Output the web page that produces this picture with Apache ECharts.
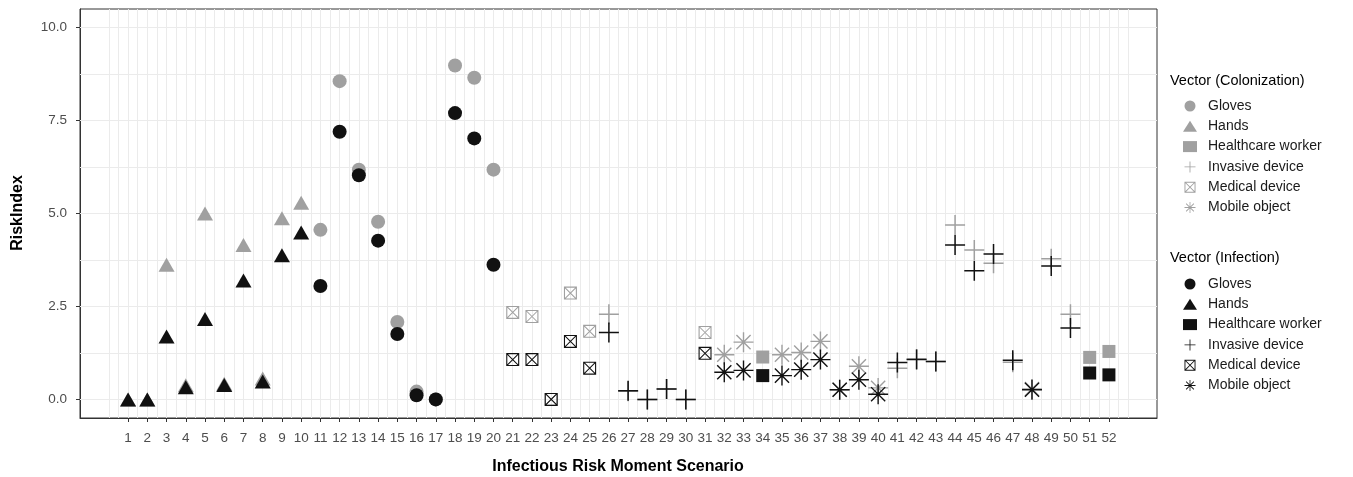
<!DOCTYPE html>
<html>
<head>
<meta charset="utf-8">
<script src="https://cdn.jsdelivr.net/npm/echarts@6/dist/echarts.min.js"></script>
<style>
  html, body { margin: 0; padding: 0; background: #ffffff; }
  #chart { width: 1353px; height: 477px; }
</style>
</head>
<body>
<div id="chart"></div>
<script>
// ---------- DATA ----------
const scenarios = [1,2,3,4,5,6,7,8,9,10,11,12,13,14,15,16,17,18,19,20,21,22,23,24,25,26,
  27,28,29,30,31,32,33,34,35,36,37,38,39,40,41,42,43,44,45,46,47,48,49,50,51,52];
const vectors = [
  'Hands','Hands','Hands','Hands','Hands','Hands','Hands','Hands','Hands','Hands',
  'Gloves','Gloves','Gloves','Gloves','Gloves','Gloves','Gloves','Gloves','Gloves','Gloves',
  'Medical device','Medical device','Medical device','Medical device','Medical device',
  'Invasive device','Invasive device','Invasive device','Invasive device','Invasive device',
  'Medical device','Mobile object','Mobile object','Healthcare worker',
  'Mobile object','Mobile object','Mobile object','Mobile object','Mobile object','Mobile object',
  'Invasive device','Invasive device','Invasive device','Invasive device','Invasive device','Invasive device','Invasive device',
  'Mobile object','Invasive device','Invasive device','Healthcare worker','Healthcare worker'
];
const colonization = [0.0,0.0,3.62,0.38,5.0,0.42,4.15,0.56,4.87,5.29,
  4.56,8.56,6.18,4.78,2.08,0.21,0.0,8.98,8.65,6.18,
  2.34,2.23,0.0,2.86,1.83,2.29,0.22,0.0,0.28,0.0,
  1.8,1.2,1.54,1.14,1.2,1.26,1.56,0.26,0.89,0.31,
  0.84,1.09,1.02,4.69,4.02,3.66,1.0,0.28,3.78,2.29,1.13,1.29];
const infection = [0.0,0.0,1.69,0.33,2.16,0.39,3.2,0.48,3.88,4.49,
  3.05,7.2,6.03,4.27,1.76,0.11,0.0,7.7,7.02,3.62,
  1.07,1.07,0.0,1.56,0.84,1.8,0.23,0.0,0.28,0.0,
  1.24,0.73,0.78,0.64,0.64,0.8,1.07,0.26,0.53,0.14,
  0.99,1.07,1.02,4.15,3.46,3.91,1.05,0.26,3.59,1.92,0.71,0.66];
const vectorNames = ['Gloves','Hands','Healthcare worker','Invasive device','Medical device','Mobile object'];
const yTickLabels = [0, 2.5, 5, 7.5, 10];
const xTickLabels = scenarios;

// ---------- STYLE ----------
const GREY = '#a0a0a0';
const BLACK = '#111111';
const PLUS = 'path://M9.25,0 H10.75 V9.25 H20 V10.75 H10.75 V20 H9.25 V10.75 H0 V9.25 H9.25 Z';
const BOXX = 'path://M0,0 H13 V13 H0 Z M1.1,1.1 V11.9 H11.9 V1.1 Z ' +
  'M1.354,0.646 L12.354,11.646 L11.646,12.354 L0.646,1.354 Z ' +
  'M12.354,1.354 L1.354,12.354 L0.646,11.646 L11.646,0.646 Z';
const STAR = 'path://M9.3,0 H10.7 V9.3 H20 V10.7 H10.7 V20 H9.3 V10.7 H0 V9.3 H9.3 Z ' +
  'M3.42,2.43 L17.57,16.58 L16.58,17.57 L2.43,3.42 Z ' +
  'M17.57,3.42 L3.42,17.57 L2.43,16.58 L16.58,2.43 Z';
const symbolOf = {
  'Gloves': ['circle', 14],
  'Hands': ['triangle', [16, 14]],
  'Healthcare worker': ['rect', 13],
  'Invasive device': [PLUS, 20],
  'Medical device': [BOXX, 13],
  'Mobile object': [STAR, 20]
};

function buildSeries(values, suffix, color, z) {
  return vectorNames.map(v => ({
    name: v + suffix,
    type: 'scatter',
    z: z,
    symbol: symbolOf[v][0],
    symbolSize: symbolOf[v][1],
    symbolKeepAspect: true,
    itemStyle: { color: color, opacity: 1 },
    emphasis: { disabled: true },
    animation: false,
    data: scenarios.map((s, i) => vectors[i] === v ? [s, values[i]] : null).filter(d => d)
  }));
}

// gridline positions (axis values, mapped through the axis scales)
const xGrid = []; for (let v = 0; v <= 53; v += 0.5) xGrid.push({ xAxis: v });
const yGrid = []; for (let v = 0; v <= 10; v += 1.25) yGrid.push({ yAxis: v });

const gridSeries = {
  name: 'grid', type: 'scatter', z: 1, data: [], silent: true, animation: false,
  markLine: {
    z: 1, zlevel: 0,
    silent: true, animation: false, symbol: ['none', 'none'],
    label: { show: false },
    lineStyle: { color: '#ebebeb', type: 'solid', width: 1 },
    emphasis: { disabled: true },
    data: xGrid.concat(yGrid)
  }
};

const colSeries = buildSeries(colonization, ' (C)', GREY, 3);
const infSeries = buildSeries(infection, ' (I)', BLACK, 4);

const chart = echarts.init(document.getElementById('chart'), null, { renderer: 'canvas' });
const legendBase = {
  orient: 'vertical', left: 1178, itemWidth: 14, itemHeight: 11, itemGap: 6.3,
  selectedMode: false,
  textStyle: { fontFamily: 'Liberation Sans, Arial, sans-serif', fontSize: 14, color: '#1a1a1a', padding: [0, 0, 0, 6] },
  formatter: n => n.replace(/ \((C|I)\)$/, '')
};
chart.setOption({
  backgroundColor: '#ffffff',
  textStyle: { fontFamily: 'Liberation Sans, Arial, sans-serif' },
  grid: { left: 80, right: 196, top: 9, bottom: 59, show: true, borderColor: '#333333', borderWidth: 1, backgroundColor: '#ffffff' },
  xAxis: {
    type: 'value', min: -1.5, max: 54.5, interval: 0.5,
    axisLine: { show: true, onZero: false, lineStyle: { color: '#333333', width: 1 } },
    axisTick: { show: true, length: 4, lineStyle: { color: '#333333' }, customValues: xTickLabels },
    axisLabel: { customValues: xTickLabels, margin: 13, fontSize: 13.5, color: '#4d4d4d' },
    splitLine: { show: false }
  },
  yAxis: {
    type: 'value', min: -0.5, max: 10.5,
    axisLine: { show: true, onZero: false, lineStyle: { color: '#333333', width: 1 } },
    axisTick: { show: true, length: 4, lineStyle: { color: '#333333' }, customValues: yTickLabels },
    axisLabel: { customValues: yTickLabels, margin: 13, fontSize: 13.5, color: '#4d4d4d', formatter: v => v.toFixed(1) },
    splitLine: { show: false }
  },
  legend: [
    Object.assign({}, legendBase, { top: 94, data: vectorNames.map(v => v + ' (C)') }),
    Object.assign({}, legendBase, { top: 272, data: vectorNames.map(v => v + ' (I)') })
  ],
  graphic: [
    { type: 'text', left: 1170, top: 73, style: { text: 'Vector (Colonization)', fontSize: 14.5, fill: '#000', fontFamily: 'Liberation Sans, Arial, sans-serif' } },
    { type: 'text', left: 1170, top: 250, style: { text: 'Vector (Infection)', fontSize: 14.5, fill: '#000', fontFamily: 'Liberation Sans, Arial, sans-serif' } },
    { type: 'text', x: 618, y: 467, style: { text: 'Infectious Risk Moment Scenario', fontSize: 16, fontWeight: 'bold', fill: '#000', align: 'center', verticalAlign: 'middle', fontFamily: 'Liberation Sans, Arial, sans-serif' } },
    { type: 'text', x: 18, y: 213, rotation: Math.PI / 2, style: { text: 'RiskIndex', fontSize: 16, fontWeight: 'bold', fill: '#000', align: 'center', verticalAlign: 'middle', fontFamily: 'Liberation Sans, Arial, sans-serif' } }
  ],
  series: [gridSeries].concat(colSeries, infSeries)
});
</script>
</body>
</html>
